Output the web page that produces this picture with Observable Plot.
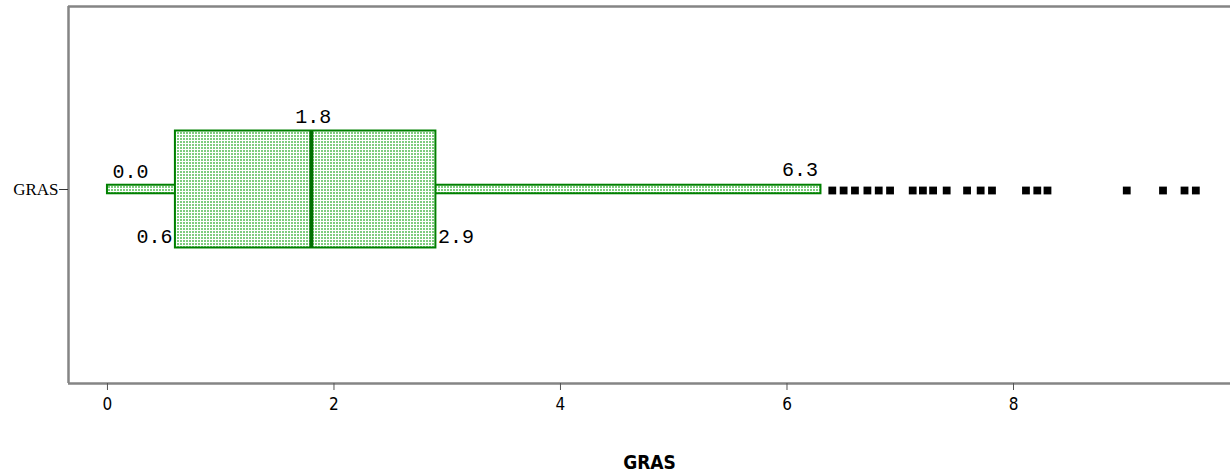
<!DOCTYPE html>
<html>
<head>
<meta charset="utf-8">
<script src="https://cdn.jsdelivr.net/npm/d3@7"></script>
<script src="https://cdn.jsdelivr.net/npm/@observablehq/plot@0.6"></script>
<style>
  html, body { margin: 0; padding: 0; background: #fff; }
  #chart svg { display: block; }
</style>
</head>
<body>
<div id="chart"></div>
<script>
// ---- data ----
const categories = ["GRAS"];
const whiskerLow = [0.0];
const quartile1 = [0.6];
const medians = [1.8];
const quartile3 = [2.9];
const whiskerHigh = [6.3];
const outliers = [6.40, 6.50, 6.60, 6.71, 6.81, 6.91, 7.11, 7.20, 7.29, 7.41,
                  7.59, 7.71, 7.81, 8.11, 8.21, 8.30, 9.00, 9.32, 9.51, 9.61];
const xTicks = [0, 2, 4, 6, 8];
const xTitle = "GRAS";

// table built from arrays
const stats = categories.map((c, i) => ({
  cat: c, lo: whiskerLow[i], q1: quartile1[i], med: medians[i], q3: quartile3[i], hi: whiskerHigh[i]
}));
const outlierRows = outliers.map(v => ({value: v}));

// ---- layout ----
const xDomain = [-0.344, 9.916];
const yDomain = [-1, 0.9433];
const boxHalf = 0.3015;
const whiskerHalf = 0.022;
const green = "#008000";
const frameColor = "#858585";
const labelFont = "Liberation Mono";

const fmt = v => v.toFixed(1);

const svg = Plot.plot({
  width: 1230,
  height: 473,
  marginTop: 6,
  marginBottom: 90,
  marginLeft: 68,
  marginRight: 0,
  style: {fontFamily: "DejaVu Sans Condensed", fontSize: "16px", color: "#000", background: "#fff"},
  x: {domain: xDomain},
  y: {domain: yDomain},
  marks: [
    // frame (top, bottom, left)
    Plot.ruleY([yDomain[1]], {stroke: frameColor, strokeWidth: 2.5}),
    Plot.ruleY([yDomain[0]], {stroke: frameColor, strokeWidth: 2.5}),
    Plot.ruleX([xDomain[0]], {stroke: frameColor, strokeWidth: 2.5}),
    // whisker
    Plot.rect(stats, {x1: "lo", x2: "hi", y1: -whiskerHalf, y2: whiskerHalf,
      fill: "url(#dots)", stroke: green, strokeWidth: 2}),
    // box
    Plot.rect(stats, {x1: "q1", x2: "q3", y1: -boxHalf, y2: boxHalf,
      fill: "url(#dots)", stroke: green, strokeWidth: 2}),
    // median
    Plot.ruleX(stats, {x: "med", y1: -boxHalf, y2: boxHalf, stroke: "#007000", strokeWidth: 4}),
    // outliers
    Plot.dot(outlierRows, {x: "value", y: 0, symbol: "square", r: 4.4, fill: "#000", stroke: null, dy: 1}),
    // value labels
    Plot.text(stats, {x: "lo", y: 0, text: d => fmt(d.lo), textAnchor: "start", lineAnchor: "bottom",
      dx: 5, dy: -12, fontFamily: labelFont, fontSize: 20, fill: "#000"}),
    Plot.text(stats, {x: "med", y: 0, text: d => fmt(d.med), textAnchor: "middle", lineAnchor: "bottom",
      dx: 2, dy: -67, fontFamily: labelFont, fontSize: 20, fill: "#000"}),
    Plot.text(stats, {x: "q1", y: 0, text: d => fmt(d.q1), textAnchor: "end", lineAnchor: "bottom",
      dx: -3, dy: 53, fontFamily: labelFont, fontSize: 20, fill: "#000"}),
    Plot.text(stats, {x: "q3", y: 0, text: d => fmt(d.q3), textAnchor: "start", lineAnchor: "bottom",
      dx: 2, dy: 53, fontFamily: labelFont, fontSize: 20, fill: "#000"}),
    Plot.text(stats, {x: "hi", y: 0, text: d => fmt(d.hi), textAnchor: "end", lineAnchor: "bottom",
      dx: -3, dy: -14, fontFamily: labelFont, fontSize: 20, fill: "#000"}),
    // axes
    Plot.axisX({ticks: xTicks, tickSize: 7, tickPadding: 7, label: null, stroke: "#555",
      fontFamily: "DejaVu Sans Condensed", fontSize: 17}),
    Plot.axisY({ticks: [0], tickFormat: () => categories[0], tickSize: 9, tickPadding: 1, label: null,
      fontFamily: "Liberation Serif", fontSize: 17, stroke: "#333"}),
    // axis title
    Plot.text([xTitle], {text: d => d, frameAnchor: "bottom", dy: 79, lineAnchor: "middle",
      fontFamily: "DejaVu Sans Condensed", fontWeight: "bold", fontSize: 19, fill: "#000"})
  ]
});

// dotted fill pattern
const defs = d3.select(svg).insert("defs", ":first-child");
const pat = defs.append("pattern").attr("id", "dots").attr("width", 3).attr("height", 3)
  .attr("patternUnits", "userSpaceOnUse");
pat.append("rect").attr("width", 3).attr("height", 3).attr("fill", "#fff");
pat.append("rect").attr("width", 2).attr("height", 2).attr("fill", "#7fcc7f");

document.getElementById("chart").appendChild(svg);
</script>
</body>
</html>
